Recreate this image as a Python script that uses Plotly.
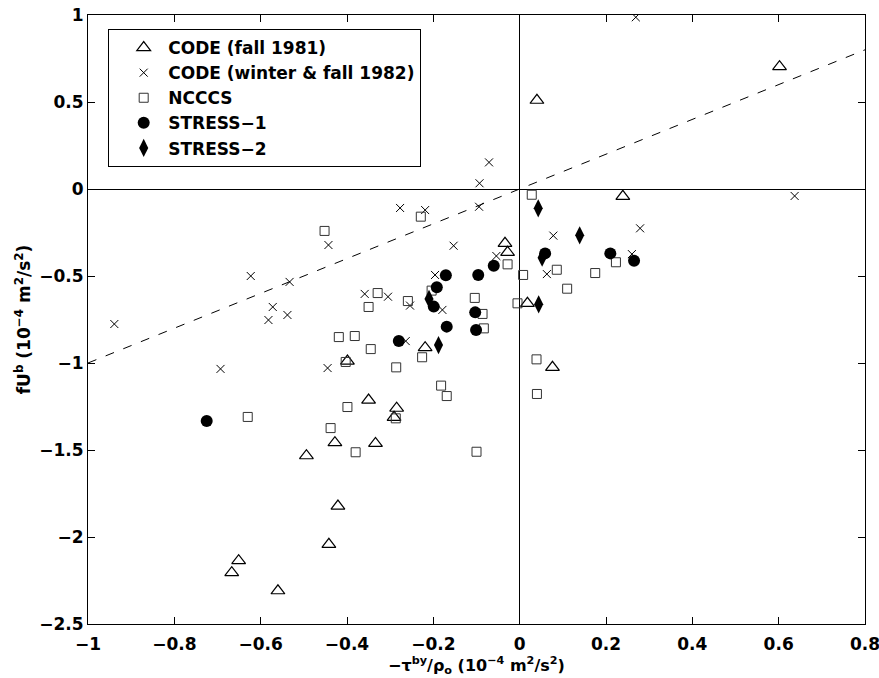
import plotly.graph_objects as go

# CODE (fall 1981) - triangles
tri_x = [0.602, 0.04, 0.239, -0.034, -0.028, 0.018, -0.219, -0.399, 0.076, -0.350,
         -0.285, -0.291, -0.428, -0.334, -0.494, -0.421, -0.442, -0.651, -0.667, -0.560]
tri_y = [0.703, 0.51, -0.042, -0.312, -0.364, -0.657, -0.912, -0.989, -1.025, -1.213,
         -1.260, -1.312, -1.458, -1.462, -1.533, -1.822, -2.042, -2.136, -2.205, -2.309]

# CODE (winter & fall 1982) - crosses
crs_x = [0.269, 0.637, -0.071, -0.093, -0.277, -0.219, -0.094, 0.279, 0.078, -0.153,
         -0.054, 0.260, 0.063, -0.196, -0.305, -0.254, -0.179, -0.264, -0.443, -0.623,
         -0.533, -0.359, -0.572, -0.582, -0.538, -0.939, -0.693, -0.445]
crs_y = [0.987, -0.040, 0.153, 0.033, -0.109, -0.121, -0.102, -0.226, -0.268, -0.326,
         -0.385, -0.374, -0.489, -0.494, -0.619, -0.670, -0.695, -0.874, -0.322, -0.500,
         -0.534, -0.603, -0.678, -0.753, -0.724, -0.776, -1.034, -1.029]

# NCCCS - squares
sq_x = [0.028, -0.229, -0.028, 0.223, 0.086, 0.175, 0.008, 0.110, -0.204, -0.259,
        -0.104, -0.086, -0.005, -0.083, -0.226, -0.286, 0.039, -0.182, -0.169, 0.040,
        -0.287, -0.452, -0.329, -0.350, -0.419, -0.382, -0.345, -0.403, -0.399, -0.630,
        -0.438, -0.380, -0.100]
sq_y = [-0.033, -0.159, -0.433, -0.421, -0.464, -0.483, -0.494, -0.573, -0.584, -0.644,
        -0.626, -0.718, -0.657, -0.801, -0.967, -1.025, -0.979, -1.130, -1.190, -1.178,
        -1.318, -0.241, -0.598, -0.678, -0.851, -0.845, -0.920, -0.994, -1.253, -1.310,
        -1.374, -1.513, -1.510]

# STRESS-1 - filled circles
c_x = [-0.725, -0.060, 0.059, 0.210, 0.265, -0.096, -0.171, -0.192, -0.199, -0.103,
       -0.169, -0.101, -0.280]
c_y = [-1.333, -0.441, -0.370, -0.370, -0.412, -0.494, -0.496, -0.565, -0.676, -0.709,
       -0.791, -0.810, -0.874]

# STRESS-2 - filled diamonds
d_x = [0.043, 0.139, 0.052, -0.210, 0.044, -0.188]
d_y = [-0.111, -0.266, -0.395, -0.632, -0.663, -0.897]

# reference line y = x
line_x = [-1.0, 0.8]
line_y = [-1.0, 0.8]

x_ticks = [-1, -0.8, -0.6, -0.4, -0.2, 0, 0.2, 0.4, 0.6, 0.8]
x_tick_labels = ["\u22121", "\u22120.8", "\u22120.6", "\u22120.4", "\u22120.2", "0", "0.2", "0.4", "0.6", "0.8"]
y_ticks = [1, 0.5, 0, -0.5, -1, -1.5, -2, -2.5]
y_tick_labels = ["1", "0.5", "0", "\u22120.5", "\u22121", "\u22121.5", "\u22122", "\u22122.5"]

FONT = "DejaVu Sans, Liberation Sans, Arial, sans-serif"

fig = go.Figure()
fig.add_trace(go.Scatter(x=line_x, y=line_y, mode="lines", showlegend=False,
                         line=dict(color="black", width=1, dash="9px,10px"), hoverinfo="skip"))
fig.add_trace(go.Scatter(x=tri_x, y=tri_y, mode="markers", name="<b>CODE (fall 1981)</b>",
                         marker=dict(symbol="triangle-up-open", size=12, color="black",
                                     line=dict(color="black", width=1.2))))
fig.add_trace(go.Scatter(x=crs_x, y=crs_y, mode="markers", name="<b>CODE (winter &amp; fall 1982)</b>",
                         marker=dict(symbol="x-thin", size=8, color="black",
                                     line=dict(color="black", width=1))))
fig.add_trace(go.Scatter(x=sq_x, y=sq_y, mode="markers", name="<b>NCCCS</b>",
                         marker=dict(symbol="square-open", size=9, color="#333333",
                                     line=dict(color="#333333", width=1))))
fig.add_trace(go.Scatter(x=c_x, y=c_y, mode="markers", name="<b>STRESS\u22121</b>",
                         marker=dict(symbol="circle", size=12, color="black",
                                     line=dict(color="black", width=0))))
fig.add_trace(go.Scatter(x=d_x, y=d_y, mode="markers", name="<b>STRESS\u22122</b>",
                         marker=dict(symbol="diamond-tall", size=13, color="black",
                                     line=dict(color="black", width=0))))

axis_common = dict(showgrid=False, showline=True, linecolor="black", linewidth=1,
                   mirror="ticks", ticks="inside", ticklen=7, tickcolor="black", tickwidth=1,
                   zeroline=True, zerolinecolor="black", zerolinewidth=1,
                   ticklabeloverflow="allow",
                   tickfont=dict(family=FONT, size=17, color="black"), automargin=False)

fig.update_xaxes(range=[-1, 0.8], tickvals=x_ticks, ticktext=["<b>%s</b>" % t for t in x_tick_labels],
                 ticklabelstandoff=5,
                 title=dict(text="<b>\u2212\u03c4<sup>by</sup>/\u03c1<sub>o</sub> (10<sup>\u22124</sup> m<sup>2</sup>/s<sup>2</sup>)</b>",
                            font=dict(family=FONT, size=16, color="black"), standoff=3),
                 **axis_common)
fig.update_yaxes(range=[-2.5, 1], tickvals=y_ticks, ticktext=["<b>%s</b>" % t for t in y_tick_labels],
                 title=dict(text="<b>fU<sup>b</sup> (10<sup>\u22124</sup> m<sup>2</sup>/s<sup>2</sup>)</b>",
                            font=dict(family=FONT, size=17, color="black"), standoff=4),
                 **axis_common)

fig.update_layout(
    width=879, height=678,
    margin=dict(l=88, r=14, t=15, b=54),
    paper_bgcolor="white", plot_bgcolor="white",
    font=dict(family=FONT, color="black"),
    legend=dict(x=0.026, y=0.977, xanchor="left", yanchor="top",
                bordercolor="black", borderwidth=1, bgcolor="white",
                font=dict(family=FONT, size=17, color="black"),
                itemwidth=39, indentation=10, tracegroupgap=2),
)

fig.write_html("out.html")
